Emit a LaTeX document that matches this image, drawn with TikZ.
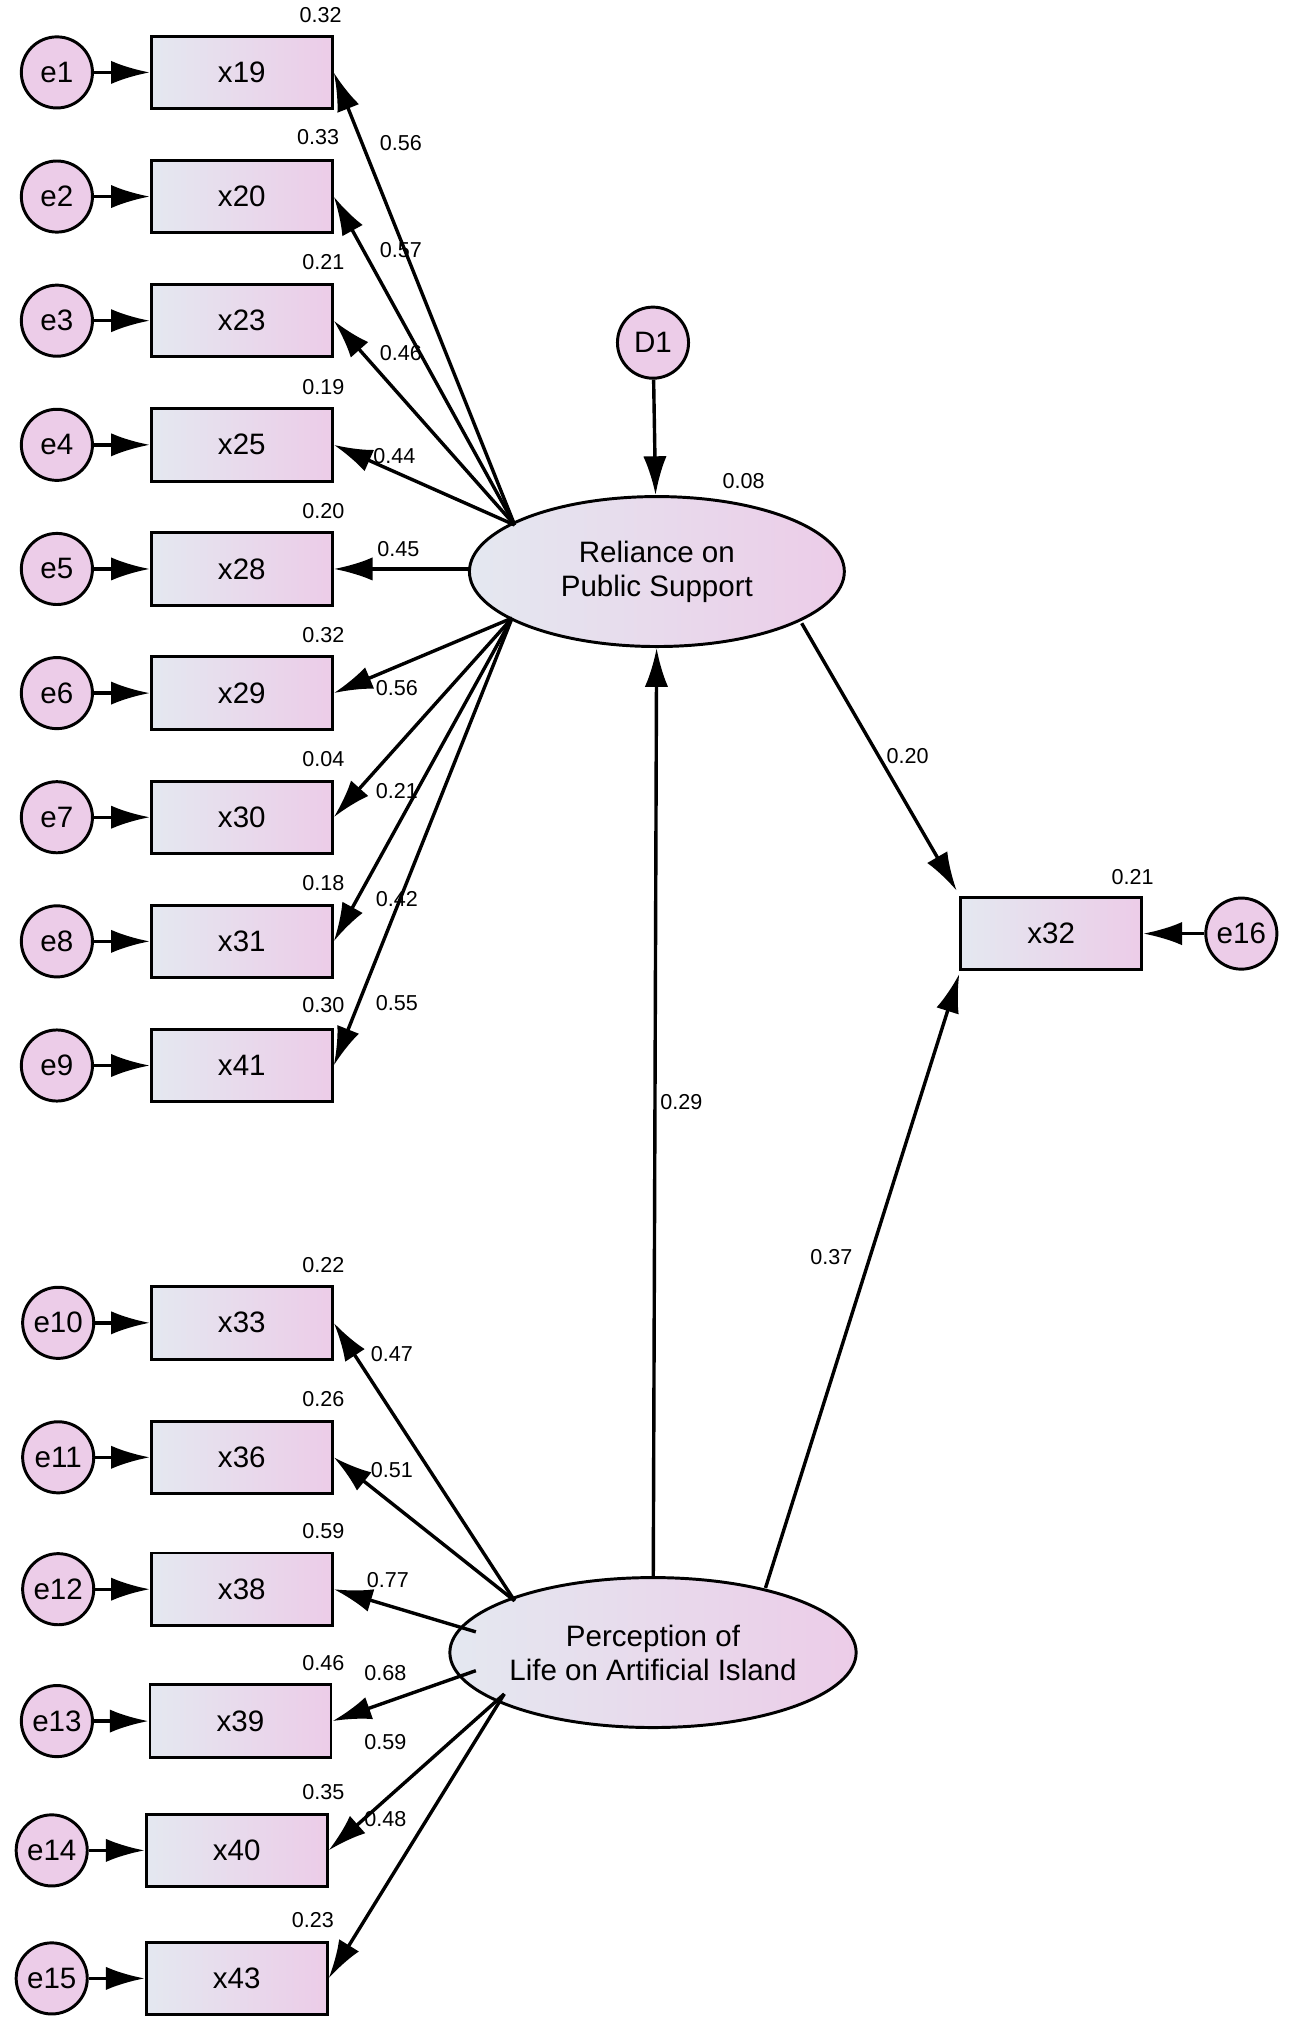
\documentclass[tikz,border=0pt]{standalone}
\usepackage{fontspec}
\setmainfont{Liberation Sans}
\usetikzlibrary{arrows.meta,calc,shapes.geometric}
\definecolor{pk}{RGB}{236,204,232}
\definecolor{bl}{RGB}{228,232,240}
\begin{document}
\begin{tikzpicture}[x=0.02cm,y=-0.02cm,
  obs/.style={draw,line width=1.3pt,minimum width=2.8cm,minimum height=1.12cm,left color=bl,right color=pk,font=\fontsize{13}{15}\selectfont},
  err/.style={draw,circle,line width=1.3pt,minimum size=1.1cm,inner sep=0pt,fill=pk,font=\fontsize{13}{15}\selectfont},
  lat/.style={draw,ellipse,line width=1.3pt,minimum width=5.8cm,minimum height=2.32cm,inner sep=0pt,left color=bl,right color=pk,font=\fontsize{13}{15}\selectfont,align=center},
  arr/.style={line width=1.5pt,-{Latex[length=6mm,width=3.6mm]}},
  num/.style={font=\fontsize{9.5}{11}\selectfont,inner sep=1pt}]
\useasboundingbox (0,0) rectangle (1000,1573);
\node[lat] (R) at (508,442) {Reliance on\\Public Support};
\node[lat] (P) at (505,1278) {Perception of\\Life on Artificial Island};
\node[err] (D1) at (505,265) {D1};
\node[obs] (x32) at (813,722) {x32};
\node[err] (e16) at (960,722) {e16};
\coordinate (Ru) at (398,406);
\coordinate (Rm) at (364,440);
\coordinate (Rd) at (396,478);
\coordinate (Pu) at (398,1238);
\coordinate (Pm) at (368,1262);
\coordinate (Pn) at (368,1292);
\coordinate (Pd) at (390,1310);
\foreach \n/\x/\y/\e/\ex/\v/\vx/\vy/\l/\lx/\ly/\L in {
 19/187/56/1/44/0.32/248/12/0.56/310/111/Ru,
 20/187/152/2/44/0.33/246/106/0.57/310/193/Ru,
 23/187/248/3/44/0.21/250/203/0.46/310/273/Ru,
 25/187/344/4/44/0.19/250/299/0.44/305/353/Ru,
 28/187/440/5/44/0.20/250/395/0.45/308/425/Rm,
 29/187/536/6/44/0.32/250/491/0.56/307/532/Rd,
 30/187/632/7/44/0.04/250/587/0.21/307/612/Rd,
 31/187/728/8/44/0.18/250/683/0.42/307/695/Rd,
 41/187/824/9/44/0.30/250/777/0.55/307/776/Rd,
 33/187/1023/10/45/0.22/250/978/0.47/303/1047/Pu,
 36/187/1127/11/45/0.26/250/1082/0.51/303/1137/Pu,
 38/187/1229/12/45/0.59/250/1184/0.77/300/1222/Pm,
 39/186/1331/13/44/0.46/250/1286/0.68/298/1294/Pn,
 40/183/1431/14/40/0.35/250/1386/0.59/298/1347/Pd,
 43/183/1530/15/40/0.23/242/1485/0.48/298/1407/Pd}{
  \node[obs] (x\n) at (\x,\y) {x\n};
  \node[err] (e\e) at (\ex,\y) {e\e};
  \draw[arr] (e\e) -- (x\n.west);
  \draw[arr] (\L) -- (x\n.east);
  \node[num] (v\n) at (\vx,\vy) {\v};
  \node[num] (l\n) at (\lx,\ly) {\l};
}
\draw[arr] (D1) -- (R);
\draw[arr] (P) -- (R);
\coordinate (r32) at (620,482);
\coordinate (p32) at (592,1228);
\coordinate (t1) at ($(x32.north west)+(-2,-4)$);
\coordinate (t2) at ($(x32.south west)+(0,2)$);
\draw[arr] (r32) -- (t1);
\draw[arr] (p32) -- (t2);
\draw[arr] (e16) -- (x32.east);
\node[num] (n08) at (575,372) {0.08};
\node[num] (n20) at (702,585) {0.20};
\node[num] (n21) at (876,678) {0.21};
\node[num] (n29) at (527,852) {0.29};
\node[num] (n37) at (643,972) {0.37};
\end{tikzpicture}
\end{document}
